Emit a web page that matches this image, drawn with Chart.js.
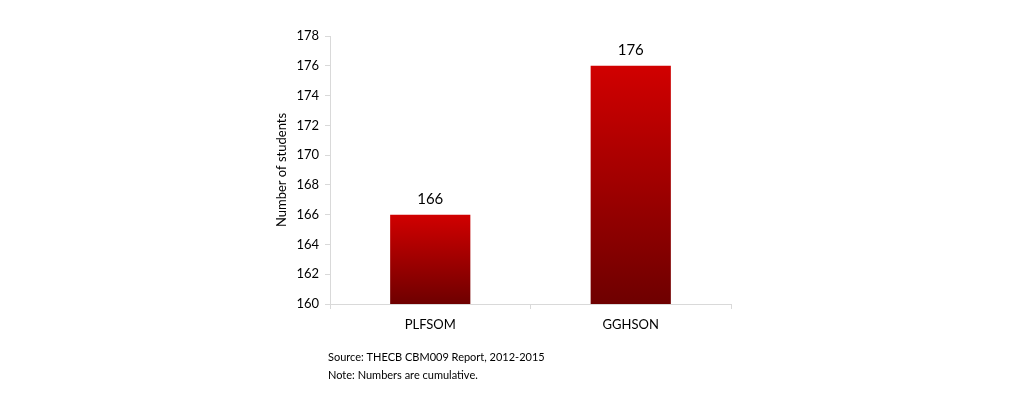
<!DOCTYPE html>
<html>
<head>
<meta charset="utf-8">
<script src="https://cdn.jsdelivr.net/npm/chart.js@4/dist/chart.umd.min.js"></script>
<style>
  html, body { margin: 0; padding: 0; background: #fff; }
  #wrap { width: 1024px; height: 409px; position: relative; }
</style>
</head>
<body>
<div id="wrap"><canvas id="c" width="1024" height="409"></canvas></div>
<script>
// dane wykresu
const categories = ['PLFSOM', 'GGHSON'];
const students = [166, 176];
const yTicks = [160, 162, 164, 166, 168, 170, 172, 174, 176, 178];
const notes = ['Source: THECB CBM009 Report, 2012-2015', 'Note: Numbers are cumulative.'];

const fontFamily = 'Lato, "Open Sans", sans-serif';

// gradient per słupek: jasna czerwień u góry, ciemna u dołu
function barGradient(context) {
  const chart = context.chart;
  const {ctx, chartArea, scales} = chart;
  if (!chartArea) return '#c00000';
  const v = context.raw;
  const top = scales.y.getPixelForValue(v);
  const bottom = scales.y.getPixelForValue(yTicks[0]);
  const g = ctx.createLinearGradient(0, top, 0, bottom);
  g.addColorStop(0, '#d10000');
  g.addColorStop(1, '#6e0000');
  return g;
}

const valuePlugin = {
  id: 'valuePlugin',
  afterDatasetsDraw(chart) {
    const {ctx} = chart;
    ctx.save();
    ctx.font = '15px ' + fontFamily;
    ctx.fillStyle = '#000';
    ctx.textAlign = 'center';
    ctx.textBaseline = 'middle';
    const meta = chart.getDatasetMeta(0);
    meta.data.forEach((el, i) => {
      ctx.fillText(String(students[i]), el.x, el.y - 16);
    });
    ctx.restore();
  }
};

const notePlugin = {
  id: 'notePlugin',
  afterDraw(chart) {
    const {ctx} = chart;
    ctx.save();
    ctx.font = '11px ' + fontFamily;
    ctx.fillStyle = '#000';
    ctx.textAlign = 'left';
    ctx.textBaseline = 'middle';
    notes.forEach((t, i) => ctx.fillText(t, 328, 357 + i * 18));
    ctx.restore();
  }
};

new Chart(document.getElementById('c'), {
  type: 'bar',
  data: {
    labels: categories,
    datasets: [{
      data: students,
      backgroundColor: barGradient,
      borderWidth: 0,
      barPercentage: 0.4,
      categoryPercentage: 1
    }]
  },
  options: {
    responsive: false,
    animation: false,
    layout: { padding: { left: 270, right: 293, top: 36, bottom: 65 } },
    plugins: {
      legend: { display: false },
      tooltip: { enabled: false }
    },
    scales: {
      x: {
        offset: true,
        grid: { offset: true, drawOnChartArea: false, tickLength: 5, color: '#d9d9d9' },
        border: { color: '#d9d9d9' },
        ticks: { color: '#000', font: { family: fontFamily, size: 13 }, padding: 8 },
        afterFit(scale) { scale.height = 40; }
      },
      y: {
        min: 160,
        max: 178,
        afterBuildTicks(scale) { scale.ticks = yTicks.map(v => ({ value: v })); },
        grid: { drawOnChartArea: false, tickLength: 5, color: '#d9d9d9' },
        border: { color: '#d9d9d9' },
        ticks: { color: '#000', font: { family: fontFamily, size: 13 }, padding: 6 },
        title: {
          display: true,
          text: 'Number of students',
          color: '#000',
          font: { family: fontFamily, size: 13 },
          padding: { top: 4, bottom: 0 }
        },
        afterFit(scale) { scale.width = 60; }
      }
    }
  },
  plugins: [valuePlugin, notePlugin]
});
</script>
</body>
</html>
